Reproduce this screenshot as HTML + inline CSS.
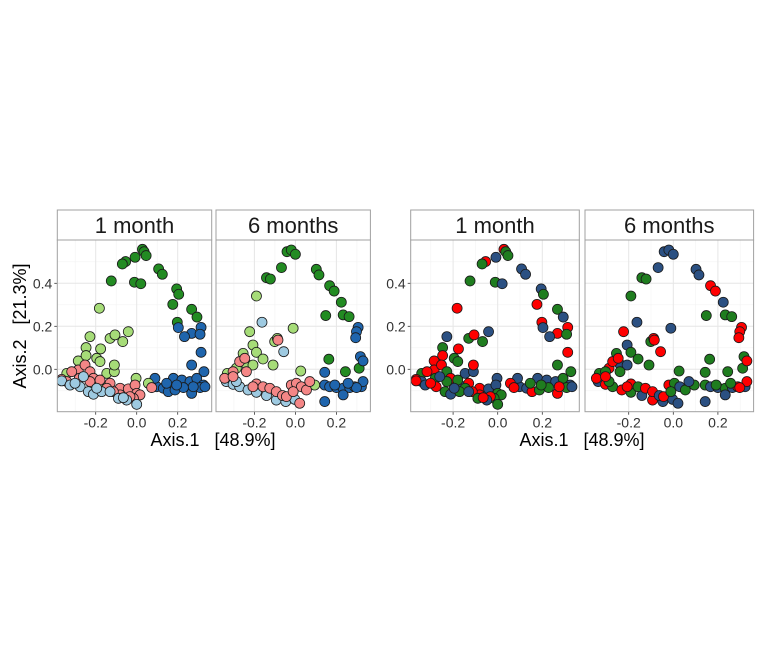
<!DOCTYPE html>
<html><head><meta charset="utf-8"><style>
html,body{margin:0;padding:0;background:#fff;}
svg{display:block;font-family:"Liberation Sans",sans-serif;}
.pre{white-space:pre;}
</style></head><body>
<svg id="chart" width="768" height="661" viewBox="0 0 768 661"></svg>
<script>
// 1 month data
const m1x=[.028,.036,.046,-.008,-.054,-.07,-.124,-.011,.02,.107,.125,.195,.205,.176,.198,.268,.294,
.203,.268,.314,.309,.233,.314,.268,.328,.179,.22,.26,.293,.325,.098,.13,.154,.187,.228,.268,.309,.333,.089,.146,.195,.276,
-.182,-.228,-.176,-.13,-.106,-.068,-.041,-.247,-.285,-.247,-.195,-.179,-.146,-.109,-.003,.057,-.341,-.171,-.109,
-.285,-.252,-.228,-.317,-.28,-.211,-.179,-.13,-.081,-.041,-.008,0,.016,-.016,-.081,-.114,-.366,-.341,.073,-.228,-.146,-.033,
-.366,-.325,-.276,-.236,-.211,-.171,-.13,-.089,-.049,0,-.26,-.301,-.195,-.065];
const m1y=[.558,.547,.529,.521,.501,.49,.411,.405,.398,.467,.442,.374,.349,.302,.219,.279,.243,
.194,.167,.195,.163,.152,.079,.02,-.011,-.042,-.05,-.057,-.042,-.073,-.081,-.088,-.104,-.096,-.085,-.112,-.085,-.081,-.042,-.065,-.073,-.081,
.284,.152,.095,.144,.16,.129,.175,.101,.039,.064,.051,.036,-.019,-.011,-.042,-.065,-.019,-.073,.02,
-.003,.02,-.011,-.011,-.042,-.042,-.05,-.065,-.088,-.091,-.073,-.112,-.119,-.135,-.119,-.104,-.047,-.057,-.085,-.057,-.088,-.127,
-.054,-.073,-.081,-.104,-.116,-.104,-.104,-.135,-.143,-.163,-.034,-.065,-.088,-.132];
const m1g="GGGGGGGGGGGGGGGGGBBBBBBBBBBBBBBBBBBBBBBBBBLLLLLLLLLLLLLLLLLLLPPPPPPPPPPPPPPPPPPPPPPCCCCCCCCCCCCCC".split("");
const m1h="rggnrgggnnnngrrgnnrrgnrggnnngnnnrggrgnnggrrnrgrgngrrggnnnrgnrrrgrgrgrrnngggrrrnrggrrnrgngngngnrnr".split("");
// 6 months data
const m6x=[-.041,-.02,0,-.068,-.141,-.122,.102,.115,.167,.189,.224,.233,.262,.148,.163,.244,.311,
.306,.298,.294,.317,.33,.143,.143,.167,.2,.233,.265,.289,.322,.33,.233,.143,.298,.257,.192,
-.19,-.223,-.207,-.19,-.158,-.101,-.088,-.011,.026,-.332,-.288,-.239,-.255,.094,-.109,-.207,
-.163,-.057,-.337,-.304,-.272,-.231,-.19,-.141,-.093,-.047,-.003,-.288,
-.345,-.304,-.272,-.247,-.19,-.158,-.125,-.093,-.063,-.02,.005,.029,.054,.07,-.044,.021,-.085,-.304,-.239,-.207,-.011];
const m6y=[.547,.555,.535,.473,.426,.42,.465,.439,.389,.364,.312,.253,.245,.25,.047,-.011,.005,
.195,.175,.147,.059,.039,-.014,-.073,-.081,-.085,-.088,-.085,-.081,-.081,-.057,-.119,-.15,-.085,-.065,-.073,
.341,.175,.113,.079,.048,.129,.144,.191,-.008,-.019,.005,.023,.074,-.073,.02,.02,
.219,.082,-.057,-.07,-.081,-.096,-.107,-.122,-.143,-.15,-.14,-.057,
-.042,-.011,.036,.051,-.068,-.081,-.088,-.104,-.122,-.073,-.065,-.081,-.096,-.057,-.127,-.158,.136,-.034,-.011,-.081,-.104];
const m6g="GGGGGGGGGGGGGGGGGBBBBBBBBBBBBBBBBBBBLLLLLLLLLLLLLLLLCCCCCCCCCCCCPPPPPPPPPPPPPPPPPPPPP".split("");
const m6h="nnnnggnnrrngggggg rrrgrggnngnrnrnnrgg grngggrngg rngggnnrnrgrgnrnng rgrrrgrrnrgngnrnrrgrg".replace(/ /g,"").split("");
const xTicks=[-0.2,0.0,0.2];
const xTickLabels=["-0.2","0.0","0.2"];
const yTicks=[0.0,0.2,0.4];
const yTickLabels=["0.0","0.2","0.4"];
const xMinor=[-0.3,-0.1,0.1,0.3];
const yMinor=[-0.1,0.1,0.3,0.5];
const colA={G:"#228b22",B:"#1f65ad",L:"#a6dc78",P:"#f48686",C:"#9ecae1"};
const colB={r:"#ff0000",g:"#1f7d1f",n:"#2b5082"};

const NS="http://www.w3.org/2000/svg";
const svg=document.getElementById("chart");
function mk(t,a,p){const e=document.createElementNS(NS,t);for(const k in a)e.setAttribute(k,a[k]);(p||svg).appendChild(e);return e;}
const Y0=369.3,YS=215,TOP=240,BOT=411.7;
function ys(v){return Y0-YS*v;}

const panels=[
 {x0:57.3,x1:211.7,ox:136.7,s:205,title:"1 month",xs:m1x,ys:m1y,gs:m1g,pal:colA,name:"left-1-month",yt:true},
 {x0:216,x1:370.4,ox:295.4,s:205,title:"6 months",xs:m6x,ys:m6y,gs:m6g,pal:colA,name:"left-6-months",yt:false},
 {x0:410.7,x1:579.3,ox:497.7,s:223,title:"1 month",xs:m1x,ys:m1y,gs:m1h,pal:colB,name:"right-1-month",yt:true},
 {x0:585,x1:753.6,ox:673.3,s:223,title:"6 months",xs:m6x,ys:m6y,gs:m6h,pal:colB,name:"right-6-months",yt:false}
];
panels.forEach(p=>{
 const g=mk("g",{});
 
 
 const xsc=v=>p.ox+p.s*v;
 const clipId="c"+p.name;
 const cp=mk("clipPath",{id:clipId},g);mk("rect",{x:p.x0,y:TOP,width:p.x1-p.x0,height:BOT-TOP},cp);
 xMinor.forEach(v=>mk("line",{x1:xsc(v),x2:xsc(v),y1:TOP,y2:BOT,stroke:"#f3f3f3","stroke-width":0.6},g));
 yMinor.forEach(v=>mk("line",{x1:p.x0,x2:p.x1,y1:ys(v),y2:ys(v),stroke:"#f3f3f3","stroke-width":0.6},g));
 xTicks.forEach((v,i)=>{
  mk("line",{x1:xsc(v),x2:xsc(v),y1:TOP,y2:BOT,stroke:"#e6e6e6","stroke-width":1},g);
  mk("line",{x1:xsc(v),x2:xsc(v),y1:BOT,y2:BOT+3,stroke:"#333","stroke-width":0.8},g);
  const t=mk("text",{x:xsc(v),y:BOT+16,"text-anchor":"middle","font-size":"14",fill:"#333"},g);t.textContent=xTickLabels[i];
  
  
 });
 yTicks.forEach((v,i)=>{
  mk("line",{x1:p.x0,x2:p.x1,y1:ys(v),y2:ys(v),stroke:"#e6e6e6","stroke-width":1},g);
  if(p.yt){
   mk("line",{x1:p.x0-3,x2:p.x0,y1:ys(v),y2:ys(v),stroke:"#333","stroke-width":0.8},g);
   const t=mk("text",{x:p.x0-5,y:ys(v)+5,"text-anchor":"end","font-size":"14",fill:"#333"},g);t.textContent=yTickLabels[i];
   
   
  }
 });
 const pg=mk("g",{"clip-path":"url(#"+clipId+")"},g);
 p.xs.forEach((xv,i)=>{
  const c=mk("circle",{cx:xsc(xv),cy:ys(p.ys[i]),r:5,fill:p.pal[p.gs[i]]||"#888",stroke:"#1a1a1a","stroke-width":0.8},pg);
  
  
 });
 mk("rect",{x:p.x0,y:TOP,width:p.x1-p.x0,height:BOT-TOP,fill:"none",stroke:"#a0a0a0","stroke-width":1},g);
 const st=mk("rect",{x:p.x0,y:210,width:p.x1-p.x0,height:TOP-210,fill:"#fff",stroke:"#a0a0a0","stroke-width":1},g);
 
 
 const tt=mk("text",{x:(p.x0+p.x1)/2,y:233,"text-anchor":"middle","font-size":"22",fill:"#1a1a1a"},g);tt.textContent=p.title;
 
 
});
const xl1=mk("text",{x:213,y:446,"text-anchor":"middle","font-size":"18",fill:"#000","class":"pre"});xl1.textContent="Axis.1   [48.9%]";


const xl2=mk("text",{x:582,y:446,"text-anchor":"middle","font-size":"18",fill:"#000","class":"pre"});xl2.textContent="Axis.1   [48.9%]";


const yl=mk("text",{x:0,y:0,"text-anchor":"middle","font-size":"18",fill:"#000","class":"pre",transform:"translate(26,326) rotate(-90)"});yl.textContent="Axis.2   [21.3%]";


</script>
</body></html>
